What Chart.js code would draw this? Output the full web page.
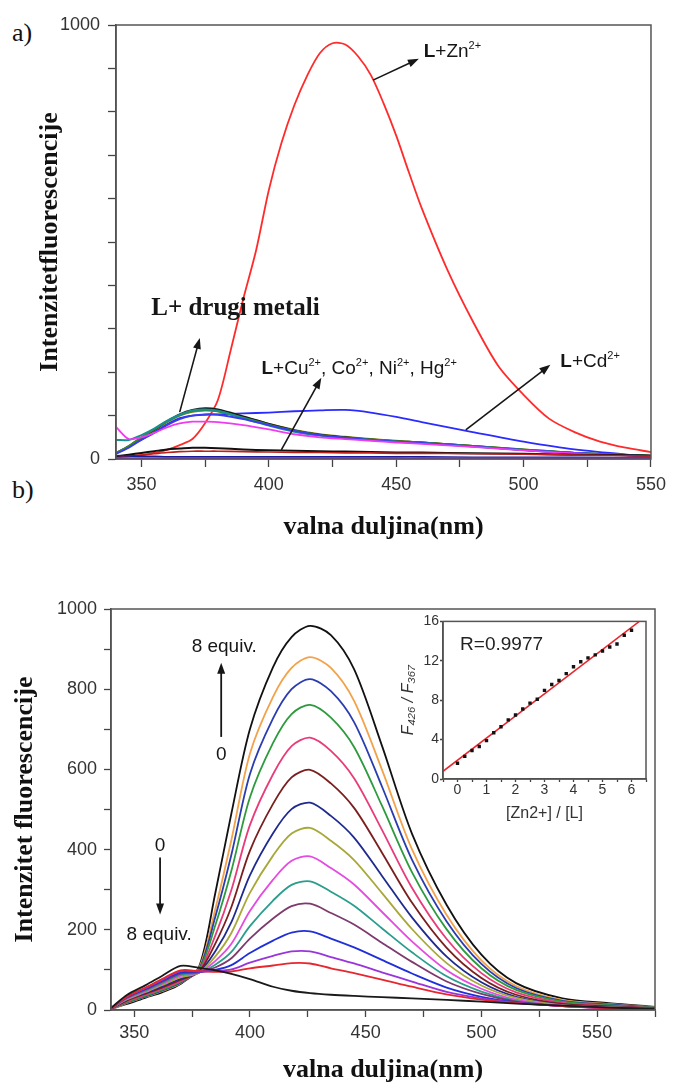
<!DOCTYPE html>
<html>
<head>
<meta charset="utf-8">
<script src="https://cdn.jsdelivr.net/npm/chart.js@4.4.1/dist/chart.umd.min.js"></script>
<style>
  html, body { margin: 0; padding: 0; background: #fff; }
  body { width: 673px; height: 1086px; position: relative; overflow: hidden; }
  .box { position: absolute; }
  .tag { position: absolute; font-family: "Liberation Serif", "Times New Roman", serif; font-size: 26px; line-height: 30px; color: #111; }
</style>
</head>
<body>
<div class="tag" style="left:12px; top:18px;">a)</div>
<div class="tag" style="left:12px; top:475px;">b)</div>
<div class="box" style="left:0; top:0;"><canvas id="chartTop" width="673" height="545"></canvas></div>
<div class="box" style="left:0; top:560px;"><canvas id="chartBottom" width="673" height="526"></canvas></div>
<div class="box" style="left:395px; top:612px;"><canvas id="chartInset" width="265" height="211"></canvas></div>
<script>
// ---- a) L + metal ions ----
const wlZn = [340, 345, 350, 355, 360, 365, 370, 375, 380, 385, 390, 395, 400, 405, 410, 415, 420, 425, 430, 435,
  440, 445, 450, 455, 460, 470, 480, 490, 500, 510, 520, 530, 540, 550];
const znVals = [5, 7, 9, 14, 21, 32, 46, 83, 136, 250, 370, 481, 620, 729, 815, 883, 935, 958, 955, 928,
  885, 820, 745, 660, 578, 437, 318, 215, 148, 93, 62, 40, 26, 16];

const wlTop = [340, 345, 350, 355, 360, 365, 370, 375, 380, 390, 400, 410, 420, 430, 440, 450, 460, 480, 500, 520, 550];
const cdVals      = [14, 28, 45, 62, 80, 94, 100, 102, 103, 105, 107, 110, 112, 113, 107, 97, 85, 62, 40, 22, 5];
const tealVals    = [44, 44, 55, 70, 88, 102, 112, 114, 111, 94, 77, 63, 54, 48, 44, 40, 37, 29, 21, 14, 7];
const greenVals   = [14, 30, 50, 68, 86, 101, 110, 113, 110, 95, 79, 65, 55, 49, 45, 41, 38, 30, 22, 14, 7];
const oliveVals   = [12, 28, 48, 66, 85, 100, 109, 112, 110, 96, 81, 67, 57, 51, 46, 42, 38, 30, 22, 14, 7];
const darkVals    = [13, 29, 49, 67, 87, 103, 113, 117, 114, 98, 81, 66, 56, 50, 45, 41, 38, 30, 21, 14, 7];
const blueVals    = [12, 26, 44, 60, 78, 92, 100, 103, 102, 92, 78, 65, 55, 49, 44, 40, 37, 29, 21, 14, 6];
const magentaVals = [74, 46, 50, 60, 73, 82, 86, 86, 85, 78, 68, 57, 50, 46, 42, 38, 35, 28, 20, 13, 6];
const cuVals      = [6, 10, 14, 18, 22, 24, 26, 26, 25, 22, 20, 19, 18, 17, 16, 15, 15, 13, 12, 10, 8];
const coVals      = [3, 6, 9, 12, 15, 17, 18, 18, 18, 17, 16, 15, 15, 14, 14, 13, 13, 12, 11, 9, 7];
const niVals      = [8, 7, 6, 6, 5, 5, 5, 5, 5, 5, 5, 5, 5, 5, 5, 5, 5, 4, 4, 4, 3];
const hgVals      = [2, 2, 2, 2, 2, 2, 2, 2, 2, 2, 2, 2, 2, 2, 2, 2, 2, 2, 2, 2, 2];

const topXTicks = [350, 375, 400, 425, 450, 475, 500, 525, 550];
const topXLabels = ['350', '', '400', '', '450', '', '500', '', '550'];
const topYTicks = [0, 100, 200, 300, 400, 500, 600, 700, 800, 900, 1000];
const topYLabels = ['0', '', '', '', '', '', '', '', '', '', '1000'];

// ---- b) titration with Zn2+ (0 -> 8 equiv.) ----
const wlB = [340, 347, 355, 362, 370, 378, 385, 392, 400, 410, 418, 426, 435, 445, 457, 470, 485, 500, 515, 535, 555, 575];
const eq00 = [5, 38, 62, 85, 110, 105, 99, 90, 77, 58, 48, 42, 38, 35, 32, 29, 25, 21, 16, 11, 6, 3];
const eq01 = [4, 34, 56, 77, 99, 97, 95, 96, 104, 111, 117, 116, 104, 92, 76, 58, 39, 26, 17, 10, 5, 3];
const eq02 = [4, 34, 55, 75, 97, 96, 97, 101, 118, 135, 146, 146, 132, 116, 94, 71, 45, 29, 18, 10, 5, 3];
const eq03 = [4, 33, 53, 73, 94, 95, 100, 112, 142, 173, 193, 196, 178, 156, 125, 91, 56, 33, 19, 10, 5, 3];
const eq04 = [4, 31, 51, 70, 91, 94, 106, 129, 178, 228, 259, 265, 242, 213, 168, 120, 71, 40, 21, 10, 6, 3];
const eq05 = [4, 30, 49, 67, 88, 93, 113, 145, 209, 273, 312, 321, 295, 260, 204, 144, 84, 46, 23, 10, 6, 3];
const eq06 = [4, 28, 47, 65, 85, 93, 122, 165, 247, 325, 372, 383, 354, 313, 245, 171, 99, 53, 26, 11, 6, 3];
const eq07 = [4, 27, 45, 62, 81, 93, 133, 192, 292, 385, 440, 454, 422, 374, 292, 202, 117, 61, 30, 12, 7, 3];
const eq08 = [3, 26, 43, 59, 78, 94, 146, 219, 336, 441, 501, 517, 484, 430, 335, 231, 133, 69, 33, 13, 8, 4];
const eq09 = [3, 24, 41, 56, 75, 95, 165, 257, 397, 514, 580, 599, 565, 504, 393, 268, 155, 80, 38, 15, 9, 4];
const eq10 = [3, 22, 38, 53, 72, 97, 185, 299, 461, 588, 658, 679, 646, 578, 450, 305, 177, 92, 44, 18, 10, 5];
const eq11 = [3, 20, 36, 50, 70, 99, 210, 347, 530, 666, 738, 761, 729, 656, 510, 344, 201, 104, 50, 21, 12, 6];
const eq12 = [3, 19, 34, 48, 68, 101, 231, 387, 588, 727, 800, 825, 795, 718, 558, 375, 221, 115, 55, 23, 14, 6];
const eq13 = [2, 18, 33, 47, 67, 104, 250, 424, 639, 781, 853, 880, 853, 771, 600, 401, 237, 124, 60, 25, 15, 7];
const eq14 = [3, 15, 31, 44, 65, 107, 290, 490, 700, 855, 930, 958, 935, 850, 660, 440, 262, 138, 67, 29, 17, 8];
const titrColors = ['#1a1a1a', '#e8262e', '#9a35dc', '#2030d8', '#7d3a6e', '#2a9d8c', '#e54be0', '#a8a83a',
  '#1f2a8f', '#7a1f1f', '#e83c7a', '#2e9a3e', '#2a3db0', '#f2a24a', '#111111'];

const botXTicks = [350, 375, 400, 425, 450, 475, 500, 525, 550, 575];
const botXLabels = ['350', '', '400', '', '450', '', '500', '', '550', ''];
const botYTicks = [0, 100, 200, 300, 400, 500, 600, 700, 800, 900, 1000];
const botYLabels = ['0', '', '200', '', '400', '', '600', '', '800', '', '1000'];

// ---- inset: F426/F367 vs [Zn2+]/[L] ----
const ratioX = [0, 0.25, 0.5, 0.75, 1, 1.25, 1.5, 1.75, 2, 2.25, 2.5, 2.75, 3, 3.25, 3.5, 3.75, 4, 4.25, 4.5, 4.75, 5, 5.25, 5.5, 5.75, 6];
const ratioY = [1.6, 2.3, 2.9, 3.3, 3.9, 4.7, 5.3, 6.0, 6.5, 7.1, 7.7, 8.1, 9.0, 9.6, 10.0, 10.7, 11.4, 11.9, 12.3, 12.6, 13.0, 13.4, 13.7, 14.6, 15.1];
const fitX = [-0.5, 6.27];
const fitY = [0.78, 16];
const insetXTicks = [-0.5, 0, 0.5, 1, 1.5, 2, 2.5, 3, 3.5, 4, 4.5, 5, 5.5, 6, 6.5];
const insetXLabels = ['', '0', '', '1', '', '2', '', '3', '', '4', '', '5', '', '6', ''];
const insetYTicks = [0, 4, 8, 12, 16];
const insetYLabels = ['0', '4', '8', '12', '16'];

const sans = '"Liberation Sans", Arial, sans-serif';
const serif = '"Liberation Serif", "Times New Roman", serif';
Chart.defaults.font.family = sans;
Chart.defaults.color = '#333';
Chart.defaults.animation = false;

function xy(xs, ys) { return ys.map((v, i) => ({x: xs[i], y: v})); }

function curve(label, xs, ys, color, width) {
  return {label, data: xy(xs, ys), borderColor: color, backgroundColor: color,
    borderWidth: width || 1.6, pointRadius: 0, tension: 0.3, fill: false};
}

function axis(min, max, ticks, labels, size, fit, title, tick) {
  return {
    type: 'linear', min, max,
    afterBuildTicks: s => { s.ticks = ticks.map(v => ({value: v})); },
    afterFit: fit,
    grid: {drawOnChartArea: false, drawTicks: true, tickLength: tick.len, tickColor: '#444', tickWidth: 1.3},
    border: {display: true, color: '#444', width: 1.5},
    ticks: {autoSkip: false, maxRotation: 0, padding: tick.pad, color: '#333',
      font: {size, family: sans}, callback: (v, i) => labels[i]},
    title: title
  };
}

function arrow(ctx, x1, y1, x2, y2) {
  const a = Math.atan2(y2 - y1, x2 - x1), h = 11, w = 4;
  ctx.beginPath();
  ctx.moveTo(x1, y1);
  ctx.lineTo(x2 - Math.cos(a) * h * 0.7, y2 - Math.sin(a) * h * 0.7);
  ctx.stroke();
  ctx.beginPath();
  ctx.moveTo(x2, y2);
  ctx.lineTo(x2 - h * Math.cos(a) + w * Math.sin(a), y2 - h * Math.sin(a) - w * Math.cos(a));
  ctx.lineTo(x2 - h * Math.cos(a) - w * Math.sin(a), y2 - h * Math.sin(a) + w * Math.cos(a));
  ctx.closePath();
  ctx.fill();
}

// text with bold / superscript pieces, x = left edge, y = baseline
function rich(ctx, parts, x, y, size) {
  let cx = x;
  ctx.textAlign = 'left';
  ctx.textBaseline = 'alphabetic';
  parts.forEach(([t, s]) => {
    const sup = s === 'sup';
    ctx.font = (s === 'b' ? 'bold ' : '') + (sup ? Math.round(size * 0.6) : size) + 'px ' + sans;
    ctx.fillText(t, cx, sup ? y - size * 0.42 : y);
    cx += ctx.measureText(t).width;
  });
}

const frame = {
  id: 'frame',
  afterDraw(chart) {
    const {ctx, chartArea: a} = chart;
    ctx.save();
    ctx.strokeStyle = '#555';
    ctx.lineWidth = 1.5;
    ctx.strokeRect(a.left, a.top, a.right - a.left, a.bottom - a.top);
    ctx.restore();
  }
};

const topNotes = {
  id: 'topNotes',
  afterDatasetsDraw(chart) {
    const {ctx, scales: {x, y}} = chart;
    const px = v => x.getPixelForValue(v), py = v => y.getPixelForValue(v);
    ctx.save();
    ctx.fillStyle = '#161616';
    ctx.strokeStyle = '#161616';
    ctx.lineWidth = 1.6;
    arrow(ctx, px(440.9), py(873), px(458.9), py(922));
    arrow(ctx, px(365.0), py(108), px(372.9), py(279));
    arrow(ctx, px(404.9), py(21), px(420.6), py(187));
    arrow(ctx, px(477.3), py(67), px(510.5), py(217));
    rich(ctx, [['L', 'b'], ['+Zn'], ['2+', 'sup']], px(460.8), py(926), 19);
    rich(ctx, [['L', 'b'], ['+Cu'], ['2+', 'sup'], [', Co'], ['2+', 'sup'], [', Ni'], ['2+', 'sup'], [', Hg'], ['2+', 'sup']],
      px(397.1), py(196), 19);
    rich(ctx, [['L', 'b'], ['+Cd'], ['2+', 'sup']], px(514.4), py(212), 19);
    ctx.font = 'bold 25px ' + serif;
    ctx.textAlign = 'center';
    ctx.fillText('L+ drugi metali', px(386.9), py(332));
    ctx.restore();
  }
};

const bottomNotes = {
  id: 'bottomNotes',
  afterDatasetsDraw(chart) {
    const {ctx, scales: {x, y}} = chart;
    const px = v => x.getPixelForValue(v), py = v => y.getPixelForValue(v);
    ctx.save();
    ctx.fillStyle = '#161616';
    ctx.strokeStyle = '#161616';
    ctx.lineWidth = 1.8;
    arrow(ctx, px(387.6), py(681), px(387.6), py(866));
    arrow(ctx, px(361.2), py(380), px(361.2), py(238));
    ctx.font = '19px ' + sans;
    ctx.textAlign = 'center';
    ctx.fillText('8 equiv.', px(388.9), py(893));
    ctx.fillText('0', px(387.6), py(624));
    ctx.fillText('0', px(361.2), py(396));
    ctx.fillText('8 equiv.', px(360.8), py(174));
    ctx.restore();
  }
};

const insetNotes = {
  id: 'insetNotes',
  afterDatasetsDraw(chart) {
    const {ctx, scales: {x, y}} = chart;
    ctx.save();
    ctx.fillStyle = '#222';
    ctx.font = '19px ' + sans;
    ctx.fillText('R=0.9977', x.getPixelForValue(0.09), y.getPixelForValue(13.1));
    ctx.restore();
  }
};

const titleFont = {family: serif, size: 26, weight: 'bold'};

new Chart(document.getElementById('chartTop'), {
  type: 'line',
  data: {
    datasets: [
      curve('L+Hg2+', wlTop, hgVals, '#8a2be2'),
      curve('L+Ni2+', wlTop, niVals, '#1a1aa0'),
      curve('L+Co2+', wlTop, coVals, '#c0201a'),
      curve('L+Cu2+', wlTop, cuVals, '#111111', 2),
      curve('drugi 1', wlTop, magentaVals, '#f03cf0', 1.8),
      curve('drugi 2', wlTop, blueVals, '#3b3bef', 1.8),
      curve('drugi 3', wlTop, tealVals, '#1a8f8f', 2),
      curve('drugi 4', wlTop, greenVals, '#3a8a2a', 2),
      curve('drugi 5', wlTop, darkVals, '#1a1a1a', 2),
      curve('drugi 6', wlTop, oliveVals, '#8a8a1a', 2),
      curve('L+Cd2+', wlTop, cdVals, '#2b2bff', 1.8),
      curve('L+Zn2+', wlZn, znVals, '#ff2b2b', 1.8)
    ]
  },
  options: {
    responsive: false,
    layout: {padding: {left: 31, right: 20, top: 25, bottom: 0}},
    plugins: {legend: {display: false}, tooltip: {enabled: false}},
    scales: {
      x: axis(340, 550, topXTicks, topXLabels, 18, s => { s.height = 86; },
        {display: true, text: 'valna duljina(nm)', color: '#111', font: titleFont, padding: {bottom: 2}},
        {len: 8, pad: 7}),
      y: axis(0, 1000, topYTicks, topYLabels, 18, s => { s.width = 85; },
        {display: true, text: 'Intenzitetfluorescencije', color: '#111', font: titleFont, padding: {top: 4}},
        {len: 8, pad: 8})
    }
  },
  plugins: [frame, topNotes]
});

const eqSeries = [eq00, eq01, eq02, eq03, eq04, eq05, eq06, eq07, eq08, eq09, eq10, eq11, eq12, eq13, eq14];

new Chart(document.getElementById('chartBottom'), {
  type: 'line',
  data: {
    datasets: eqSeries.map((vals, i) => curve(i / 2 + ' equiv.', wlB, vals, titrColors[i], 1.8))
  },
  options: {
    responsive: false,
    layout: {padding: {left: 6, right: 18, top: 49, bottom: 0}},
    plugins: {legend: {display: false}, tooltip: {enabled: false}},
    scales: {
      x: axis(340, 575, botXTicks, botXLabels, 18, s => { s.height = 76; },
        {display: true, text: 'valna duljina(nm)', color: '#111', font: titleFont, padding: {bottom: 0}},
        {len: 7, pad: 5}),
      y: axis(0, 1000, botYTicks, botYLabels, 18, s => { s.width = 105; },
        {display: true, text: 'Intenzitet fluorescencije', color: '#111', font: titleFont, padding: {top: 4}},
        {len: 7, pad: 7})
    }
  },
  plugins: [frame, bottomNotes]
});

new Chart(document.getElementById('chartInset'), {
  type: 'scatter',
  data: {
    datasets: [
      {label: 'F426/F367', data: xy(ratioX, ratioY), pointStyle: 'rect', pointRadius: 2.4,
        backgroundColor: '#111', borderColor: '#111', borderWidth: 0},
      {label: 'fit', type: 'line', data: xy(fitX, fitY), borderColor: '#e8262e', borderWidth: 1.5,
        pointRadius: 0, fill: false}
    ]
  },
  options: {
    responsive: false,
    layout: {padding: {left: 0, right: 14, top: 8, bottom: 0}},
    plugins: {legend: {display: false}, tooltip: {enabled: false}},
    scales: {
      x: axis(-0.5, 6.5, insetXTicks, insetXLabels, 14, s => { s.height = 44; },
        {display: true, text: '[Zn2+] / [L]', color: '#333', font: {family: sans, size: 16}, padding: {bottom: 0}},
        {len: 3, pad: 0}),
      y: axis(0, 16, insetYTicks, insetYLabels, 14, s => { s.width = 48; },
        {display: true, text: 'F₄₂₆ / F₃₆₇', color: '#333', font: {family: sans, size: 16, style: 'italic'}, padding: {top: 4}},
        {len: 3, pad: 1})
    }
  },
  plugins: [frame, insetNotes]
});
</script>
</body>
</html>
